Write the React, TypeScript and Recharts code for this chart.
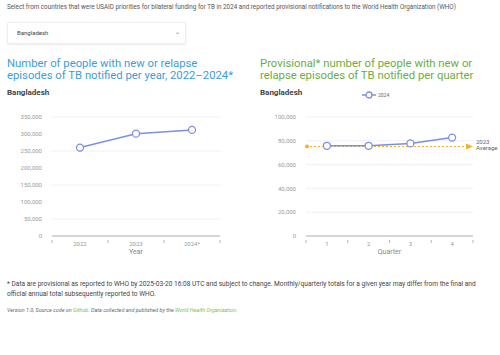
import React from 'react';
import { LineChart, Line, XAxis, YAxis, CartesianGrid, ReferenceLine } from 'recharts';

const years = ['2022', '2023', '2024*'];
const yearValues = [260000, 301000, 312000];
const yearTicks = [0, 50000, 100000, 150000, 200000, 250000, 300000, 350000];

const quarters = ['1', '2', '3', '4'];
const quarterValues = [75800, 75800, 77800, 82700];
const quarterTicks = [0, 20000, 40000, 60000, 80000, 100000];
const average2023 = 75200;

const annualData = years.map((y, i) => ({ year: y, value: yearValues[i] }));
const quarterData = quarters.map((q, i) => ({ quarter: q, value: quarterValues[i] }));

const FONT = 'Roboto, "Noto Sans", sans-serif';
const LINE = '#7d8fdf';
const GRID = '#eef0fb';
const AXIS = '#b5b5b5';
const TICK = '#9a9a9a';
const ORANGE = '#f0b429';

const fmt = (v: number) => v.toLocaleString('en-US');

function makeTick(count: number, plotWidth: number) {
  const bw = plotWidth / count;
  return (props: any) => {
    const { x, y, payload, index } = props;
    return (
      <g>
        <line x1={x - bw / 2} x2={x - bw / 2} y1={y - 4} y2={y - 1} stroke={AXIS} strokeWidth={1} />
        {index === count - 1 && (
          <line x1={x + bw / 2} x2={x + bw / 2} y1={y - 4} y2={y - 1} stroke={AXIS} strokeWidth={1} />
        )}
        <text x={x} y={y + 2} textAnchor="middle" fontSize={6} fill={TICK} fontFamily={FONT}>
          {payload.value}
        </text>
      </g>
    );
  };
}

const AvgLabel = (props: any) => {
  const vb = props.viewBox || {};
  const x = vb.x ?? 0;
  const y = vb.y ?? 0;
  const w = vb.width ?? 0;
  const ex = x + w;
  return (
    <g>
      <circle cx={x + 1} cy={y} r={2} fill={ORANGE} />
      <polygon points={`${ex - 7},${y - 3} ${ex},${y} ${ex - 7},${y + 3}`} fill={ORANGE} />
      <text x={ex + 3} y={y - 3} fontSize={6} fill="#666" fontFamily={FONT}>2023</text>
      <text x={ex + 3} y={y + 3} fontSize={6} fill="#666" fontFamily={FONT}>Average</text>
    </g>
  );
};

const titleLine = (left: number, top: number, color: string, size: number, text: string) => (
  <div style={{ position: 'absolute', left, top, fontSize: size, lineHeight: '12px', height: 12, color, whiteSpace: 'nowrap' }}>
    {text}
  </div>
);

export default function App() {
  return (
    <div style={{ position: 'absolute', left: 0, top: 0, width: 500, height: 355, background: '#fff', fontFamily: FONT, overflow: 'hidden' }}>
      <div style={{ position: 'absolute', left: 7, top: 3, fontSize: 6.3, color: '#555', whiteSpace: 'nowrap' }}>
        Select from countries that were USAID priorities for bilateral funding for TB in 2024 and reported provisional notifications to the World Health Organization (WHO)
      </div>
      <div style={{ position: 'absolute', left: 7, top: 22, width: 177, height: 20, border: '1px solid #eee', borderRadius: 2, boxShadow: '0 1px 2px rgba(0,0,0,0.08)', background: '#fff' }}>
        <span style={{ position: 'absolute', left: 9, top: 6, fontSize: 6, color: '#444' }}>Bangladesh</span>
        <span style={{ position: 'absolute', right: 5, top: 5, fontSize: 6, color: '#666' }}>⌄</span>
      </div>

      {titleLine(7, 58, '#3a9ed9', 11.3, 'Number of people with new or relapse')}
      {titleLine(7, 70, '#3a9ed9', 11.3, 'episodes of TB notified per year, 2022–2024*')}
      <div style={{ position: 'absolute', left: 7, top: 88, fontSize: 8, fontWeight: 700, color: '#444' }}>Bangladesh</div>

      {titleLine(260, 58, '#6aad3f', 11.3, 'Provisional* number of people with new or')}
      {titleLine(260, 70, '#6aad3f', 11.3, 'relapse episodes of TB notified per quarter')}
      <div style={{ position: 'absolute', left: 260, top: 88, fontSize: 8, fontWeight: 700, color: '#444' }}>Bangladesh</div>
      <svg style={{ position: 'absolute', left: 362, top: 90 }} width={14} height={10}>
        <line x1={0} x2={14} y1={5} y2={5} stroke={LINE} strokeWidth={1.5} />
        <circle cx={7} cy={5} r={3} fill="#fff" stroke={LINE} strokeWidth={1.3} />
      </svg>
      <div style={{ position: 'absolute', left: 378, top: 92, fontSize: 5, color: '#666' }}>2024</div>

      <div style={{ position: 'absolute', left: 0, top: 100 }}>
        <LineChart width={250} height={166} data={annualData} margin={{ top: 17, right: 30, left: 0, bottom: 0 }}>
          <CartesianGrid horizontal vertical={false} stroke={GRID} />
          <XAxis
            dataKey="year"
            scale="band"
            axisLine={{ stroke: AXIS }}
            tickLine={false}
            tick={makeTick(3, 168)}
            height={30}
            label={{ value: 'Year', position: 'insideBottom', offset: 12, fontSize: 7, fill: '#888', fontFamily: FONT }}
          />
          <YAxis
            width={52}
            domain={[0, 350000]}
            ticks={yearTicks}
            tickFormatter={fmt}
            axisLine={false}
            tickLine={false}
            tick={{ fontSize: 6, fill: TICK, fontFamily: FONT }}
            tickMargin={4}
          />
          <Line
            dataKey="value"
            stroke={LINE}
            strokeWidth={1.5}
            dot={{ r: 3.5, fill: '#fff', stroke: LINE, strokeWidth: 1.3 }}
            isAnimationActive={false}
          />
        </LineChart>
      </div>

      <div style={{ position: 'absolute', left: 250, top: 100 }}>
        <LineChart width={250} height={166} data={quarterData} margin={{ top: 17, right: 27, left: 0, bottom: 0 }}>
          <CartesianGrid horizontal vertical={false} stroke={GRID} />
          <XAxis
            dataKey="quarter"
            scale="band"
            axisLine={{ stroke: AXIS }}
            tickLine={false}
            tick={makeTick(4, 167)}
            height={30}
            label={{ value: 'Quarter', position: 'insideBottom', offset: 12, fontSize: 7, fill: '#888', fontFamily: FONT }}
          />
          <YAxis
            width={56}
            domain={[0, 100000]}
            ticks={quarterTicks}
            tickFormatter={fmt}
            axisLine={false}
            tickLine={false}
            tick={{ fontSize: 6, fill: TICK, fontFamily: FONT }}
            tickMargin={4}
          />
          <ReferenceLine
            y={average2023}
            stroke={ORANGE}
            strokeDasharray="2 2"
            strokeWidth={1}
            label={<AvgLabel />}
          />
          <Line
            dataKey="value"
            stroke={LINE}
            strokeWidth={1.5}
            dot={{ r: 3.5, fill: '#fff', stroke: LINE, strokeWidth: 1.3 }}
            isAnimationActive={false}
          />
        </LineChart>
      </div>

      <div style={{ position: 'absolute', left: 7, top: 279, fontSize: 6.6, lineHeight: '10px', color: '#444', width: 475 }}>
        * Data are provisional as reported to WHO by 2025-03-20 16:08 UTC and subject to change. Monthly/quarterly totals for a given year may differ from the final and official annual total subsequently reported to WHO.
      </div>
      <div style={{ position: 'absolute', left: 7, top: 307, fontSize: 5.4, fontStyle: 'italic', color: '#666', whiteSpace: 'nowrap' }}>
        Version 1.0, Source code on <span style={{ color: '#7bbf4a' }}>Github</span>. Data collected and published by the <span style={{ color: '#7bbf4a' }}>World Health Organization</span>.
      </div>
    </div>
  );
}
